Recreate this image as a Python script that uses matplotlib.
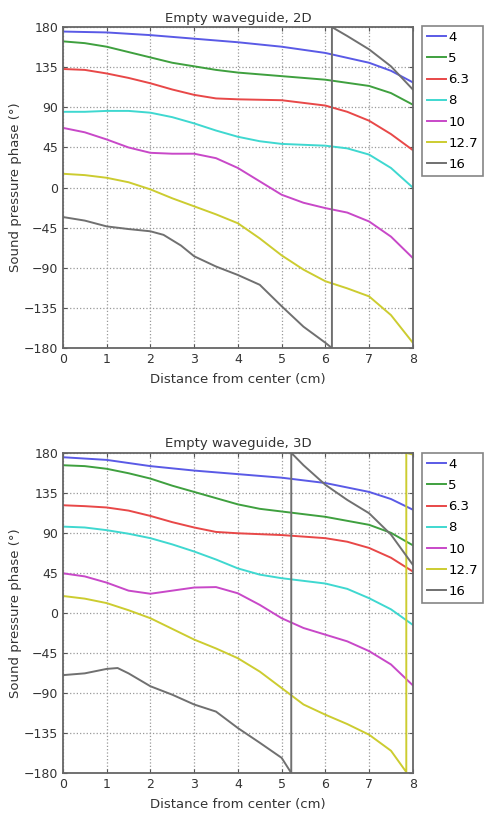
import matplotlib
matplotlib.use("Agg")
import matplotlib.pyplot as plt

labels = ["4", "5", "6.3", "8", "10", "12.7", "16"]
colors = ["#5a5ae6", "#3fa03f", "#e84848", "#3fd8d0", "#c848c8", "#cccc30", "#707070"]

# ---- 2D data ----
x2_blue = [0, 1, 2, 3, 4, 5, 6, 7, 7.5, 8]
y2_blue = [175, 174, 171, 167, 163, 158, 151, 140, 131, 118]
x2_green = [0, 0.5, 1, 1.5, 2, 2.5, 3, 3.5, 4, 5, 6, 7, 7.5, 8]
y2_green = [164, 162, 158, 152, 146, 140, 136, 132, 129, 125, 121, 114, 106, 93]
x2_red = [0, 0.5, 1, 1.5, 2, 2.5, 3, 3.5, 4, 5, 6, 6.5, 7, 7.5, 8]
y2_red = [133, 132, 128, 123, 117, 110, 104, 100, 99, 98, 92, 85, 75, 60, 42]
x2_cyan = [0, 0.5, 1, 1.5, 2, 2.5, 3, 3.5, 4, 4.5, 5, 6, 6.5, 7, 7.5, 8]
y2_cyan = [85, 85, 86, 86, 84, 79, 72, 64, 57, 52, 49, 47, 44, 37, 22, 0]
x2_mag = [0, 0.5, 1, 1.5, 2, 2.5, 3, 3.5, 4, 4.5, 5, 5.5, 6, 6.5, 7, 7.5, 8]
y2_mag = [67, 62, 54, 45, 39, 38, 38, 33, 22, 7, -8, -17, -23, -28, -38, -55, -79]
x2_yel = [0, 0.5, 1, 1.5, 2, 2.5, 3, 3.5, 4, 4.5, 5, 5.5, 6, 6.5, 7, 7.5, 8]
y2_yel = [15.5, 14, 11, 6, -2, -12, -21, -30, -40, -57, -76, -92, -105, -113, -122, -143, -174]
x2_gray = [0, 0.5, 1, 1.5, 2, 2.3, 2.7, 3, 3.5, 4, 4.5, 5, 5.5, 6, 6.15, 6.15, 6.5, 7, 7.5, 8]
y2_gray = [-33, -37, -43.5, -46.5, -49, -53, -65, -77, -88.5, -98, -109, -133, -156, -174, -180, 180, 170, 155, 136, 110]

# ---- 3D data ----
x3_blue = [0, 1, 2, 3, 4, 5, 6, 7, 7.5, 8]
y3_blue = [175, 172, 165, 160, 156, 152, 146, 136, 128, 116]
x3_green = [0, 0.5, 1, 1.5, 2, 2.5, 3, 3.5, 4, 4.5, 5, 6, 7, 7.5, 8]
y3_green = [166, 165, 162, 157, 151, 143, 136, 129, 122, 117, 114, 108, 99, 90, 76]
x3_red = [0, 0.5, 1, 1.5, 2, 2.5, 3, 3.5, 4, 5, 6, 6.5, 7, 7.5, 8]
y3_red = [121, 120, 118.5, 115, 109, 102, 96, 91, 89.5, 87.5, 84, 80, 73, 62, 46.5]
x3_cyan = [0, 0.5, 1, 1.5, 2, 2.5, 3, 3.5, 4, 4.5, 5, 6, 6.5, 7, 7.5, 8]
y3_cyan = [97, 96, 93, 89, 84, 77, 69, 60, 50, 43, 39, 33, 27, 16.5, 4, -13.5]
x3_mag = [0, 0.5, 1, 1.5, 2, 2.5, 3, 3.5, 4, 4.5, 5, 5.5, 6, 6.5, 7, 7.5, 8]
y3_mag = [44.5, 41, 34, 25, 21.5, 25, 28.5, 29, 22, 9, -6, -17, -24.5, -32, -43, -58, -81.5]
x3_yel = [0, 0.5, 1, 1.5, 2, 2.5, 3, 3.5, 4, 4.5, 5, 5.5, 6, 6.5, 7, 7.5, 7.85, 7.85, 8]
y3_yel = [19, 16, 11, 3, -6, -18, -30, -40, -51, -66, -84.5, -103, -114.5, -125, -137, -155, -179, 180, 178]
x3_gray = [0, 0.5, 1, 1.25, 1.5, 2, 2.5, 3, 3.5, 4, 4.5, 5, 5.22, 5.22, 5.5, 6, 6.5, 7, 7.5, 8]
y3_gray = [-70, -68, -63, -62, -68, -82.5, -92, -103, -111, -129.5, -146, -163, -180, 180, 166, 144, 127, 112, 88, 54]

series_2d = [(x2_blue, y2_blue), (x2_green, y2_green), (x2_red, y2_red), (x2_cyan, y2_cyan),
             (x2_mag, y2_mag), (x2_yel, y2_yel), (x2_gray, y2_gray)]
series_3d = [(x3_blue, y3_blue), (x3_green, y3_green), (x3_red, y3_red), (x3_cyan, y3_cyan),
             (x3_mag, y3_mag), (x3_yel, y3_yel), (x3_gray, y3_gray)]

xticks = [0, 1, 2, 3, 4, 5, 6, 7, 8]
yticks = [-180, -135, -90, -45, 0, 45, 90, 135, 180]

fig = plt.figure(figsize=(4.84, 8.21), dpi=100)
plt.rcParams['font.family'] = ['DejaVu Sans']

def draw(rect, series, title, leg_anchor):
    ax = fig.add_axes(rect)
    for (xs, ys), c, lab in zip(series, colors, labels):
        ax.plot(xs, ys, color=c, lw=1.4, label=lab, solid_joinstyle='round')
    ax.set_xlim(0, 8)
    ax.set_ylim(-180, 180)
    ax.set_xticks(xticks)
    ax.set_yticks(yticks)
    ax.tick_params(direction='in', labelsize=9, length=3, color='#555555', colors='#333333',
                   top=True, right=True)
    ax.grid(True, linestyle=':', color='#999999', lw=0.9)
    for s in ax.spines.values():
        s.set_color('#666666')
        s.set_linewidth(1.3)
    ax.set_title(title, fontsize=9.5, color='#333333', pad=4)
    ax.set_xlabel("Distance from center (cm)", fontsize=9.5, color='#333333', labelpad=5)
    ax.set_ylabel("Sound pressure phase (°)", fontsize=9.5, color='#333333', labelpad=1)
    leg = fig.legend(handles=ax.get_lines(), labels=labels, loc='upper left',
                     bbox_to_anchor=leg_anchor, fontsize=9.5, frameon=True, fancybox=False,
                     handlelength=1.5, handletextpad=0.15, borderpad=0.35, labelspacing=0.62,
                     borderaxespad=0)
    leg.get_frame().set_edgecolor('#666666')
    leg.get_frame().set_linewidth(1.2)
    return ax

draw([0.130, 0.576, 0.723, 0.391], series_2d, "Empty waveguide, 2D", (0.872, 0.968))
draw([0.130, 0.0585, 0.723, 0.390], series_3d, "Empty waveguide, 3D", (0.872, 0.448))

fig.savefig("out.png", dpi=100)
